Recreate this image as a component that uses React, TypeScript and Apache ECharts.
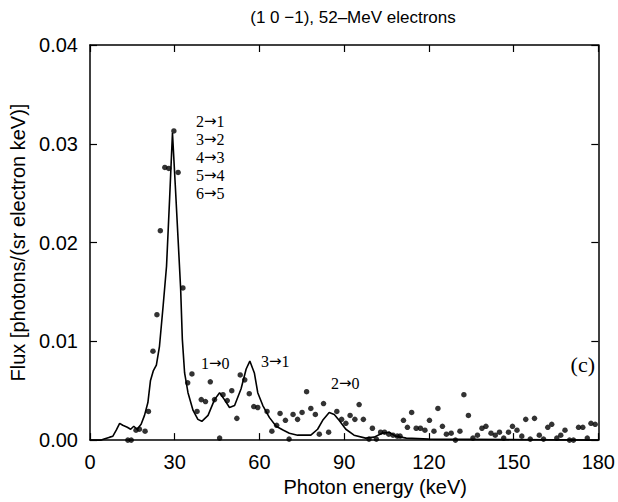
import React, { useEffect, useRef } from "react";
import * as echarts from "echarts";

// Tick labels
const xTicks = [0, 30, 60, 90, 120, 150, 180];
const yTicks = [0, 0.01, 0.02, 0.03, 0.04];

// Calculated spectrum (solid curve)
const curveEnergy = [0, 4, 5, 7, 8.1, 9.3, 10.5, 11.6, 13.2, 14.4, 15.5, 16.7, 18.1, 19.3, 20.5, 21.4, 22.4, 23.5, 24.6, 25.9, 27.1, 28.2, 29.2, 30.2, 31.2, 32.1, 32.7, 33.5, 34.7, 36.5, 38.2, 39.6, 41.8, 44.1, 45.9, 47.6, 49.4, 51.2, 53.5, 55.3, 56.6, 58.2, 59.4, 61.2, 63.5, 65.9, 68.5, 70.6, 73.5, 78.2, 80.6, 82.4, 84.7, 86.5, 88.2, 90.6, 93.5, 97.6, 100.6, 103.5, 105.9, 108.2, 112, 120, 180];
const curveFlux = [0, 0, 0.0001, 0.0003, 0.0004, 0.001, 0.0017, 0.0015, 0.0013, 0.0011, 0.0014, 0.0011, 0.0016, 0.0025, 0.0038, 0.006, 0.007, 0.0076, 0.0095, 0.0136, 0.0176, 0.0245, 0.0311, 0.0258, 0.0203, 0.0153, 0.0102, 0.0068, 0.0048, 0.003, 0.0021, 0.0019, 0.0025, 0.0041, 0.0048, 0.0041, 0.0033, 0.0035, 0.0052, 0.0072, 0.008, 0.0068, 0.0048, 0.0035, 0.0023, 0.0014, 0.001, 0.0007, 0.0005, 0.0005, 0.0011, 0.002, 0.0028, 0.0026, 0.002, 0.0011, 0.0005, 0.0002, 0.0003, 0.0007, 0.0008, 0.0004, 0.0002, 0.0001, 0];

// Measured data (dots)
const dotEnergy = [13.4, 14.6, 16.3, 17.5, 19.5, 20.7, 22.3, 23.7, 24.9, 26.5, 27.9, 29.7, 31.2, 32.9, 34.6, 36.1, 37.9, 39.4, 40.9, 42.6, 44.1, 45.9, 47.1, 48.6, 50.2, 52.0, 53.2, 54.8, 56.4, 58.0, 59.4, 62.7, 64.4, 66.1, 67.3, 69.2, 70.5, 71.9, 73.5, 75.1, 76.7, 78.2, 79.8, 81.2, 82.7, 84.5, 87.4, 89.1, 90.6, 92.1, 93.8, 95.3, 96.8, 98.8, 100.0, 101.4, 102.9, 104.3, 105.8, 107.3, 108.8, 109.8, 111.0, 112.4, 113.9, 115.5, 117.0, 118.6, 120.2, 121.8, 123.2, 124.8, 126.2, 127.9, 129.4, 131.0, 132.4, 134.0, 135.6, 137.2, 138.8, 140.2, 142.0, 143.5, 145.0, 146.5, 148.2, 149.6, 151.2, 152.9, 154.3, 155.9, 157.4, 159.1, 160.6, 162.1, 163.5, 165.3, 166.7, 168.2, 169.8, 171.2, 173.0, 174.5, 176.1, 177.4, 178.9];
const dotFlux = [0, 0, 0.001, 0.0011, 0.0009, 0.0029, 0.009, 0.0127, 0.0212, 0.0276, 0.0275, 0.0313, 0.0271, 0.0154, 0.0058, 0.0067, 0.0029, 0.0041, 0.0039, 0.0059, 0.0041, 0.0002, 0.0046, 0.004, 0.005, 0.0022, 0.0066, 0.0061, 0.0047, 0.0034, 0.0033, 0.0029, 0.0009, 0.0015, 0.0027, 0.002, 0.0001, 0.0026, 0.0021, 0.0028, 0.0049, 0.0032, 0.0026, 0.0006, 0.0037, 0.0008, 0.0029, 0.0021, 0.0017, 0.0025, 0.0021, 0.0036, 0.0021, 0.0001, 0.0012, 0.0001, 0.0008, 0.0008, 0.0006, 0.0005, 0.0004, 0.0004, 0.002, 0.0013, 0.0028, 0.0012, 0.0012, 0.001, 0.002, 0.0009, 0.0032, 0.0014, 0.0006, 0.0007, 0, 0.0009, 0.0046, 0.0025, 0.0002, 0.0005, 0.0012, 0.0014, 0.0007, 0.0005, 0.0008, 0.0002, 0.0008, 0.0014, 0.001, 0.0004, 0.0021, 0.0001, 0.0022, 0.0005, 0.0001, 0.0013, 0.0016, 0.0002, 0.0005, 0.001, 0, 0, 0.0013, 0.0013, 0.0002, 0.0017, 0.0016];

// Transition annotations [from, to]
const peakLabels = [["2", "1"], ["3", "2"], ["4", "3"], ["5", "4"], ["6", "5"]];
const sideLabels = [["1", "0"], ["3", "1"], ["2", "0"]];

const SANS = "'Liberation Sans', Arial, Helvetica, sans-serif";
const SERIF = "'Liberation Serif', 'Times New Roman', serif";

export default function App() {
  const ref = useRef<HTMLDivElement>(null);

  useEffect(() => {
    if (!ref.current) return;
    const chart = echarts.init(ref.current, undefined, { renderer: "svg" });

    const curve = curveEnergy.map((x, i) => [x, curveFlux[i]]);
    const dots = dotEnergy.map((x, i) => [x, dotFlux[i]]);

    const axisLine = { show: true, onZero: false, lineStyle: { color: "#000", width: 1.5 } };
    const axisTick = { show: true, inside: true, length: 7, lineStyle: { color: "#000", width: 1.2 } };

    const peakY = [121, 139, 157, 175, 193];
    const sidePos = [
      [201, 363],
      [261, 361],
      [331, 383],
    ];

    const rich = {
      d: { fontFamily: SERIF, fontSize: 16, fill: "#000", color: "#000" },
      a: { fontFamily: "'DejaVu Sans', sans-serif", fontSize: 15, fill: "#000", color: "#000" },
    };

    const transText = (p: string[], x: number, y: number) => ({
      type: "text",
      x,
      y,
      style: {
        text: `{d|${p[0]}}{a|→}{d|${p[1]}}`,
        rich,
        font: `16px ${SERIF}`,
        fill: "#000",
        align: "left",
        verticalAlign: "middle",
        textAlign: "left",
        textVerticalAlign: "middle",
      },
    });

    const graphics: any[] = [
      {
        type: "text",
        x: 353,
        y: 17,
        style: {
          text: "(1 0 −1), 52–MeV electrons",
          font: `17px ${SANS}`,
          fill: "#000",
          align: "center",
          verticalAlign: "middle",
          textAlign: "center",
          textVerticalAlign: "middle",
        },
      },
      ...peakLabels.map((p, i) => transText(p, 196, peakY[i])),
      ...sideLabels.map((p, i) => transText(p, sidePos[i][0], sidePos[i][1])),
      {
        type: "text",
        x: 595,
        y: 364,
        style: {
          text: "(c)",
          font: `22px ${SERIF}`,
          fill: "#000",
          align: "right",
          verticalAlign: "middle",
          textAlign: "right",
          textVerticalAlign: "middle",
        },
      },
    ];

    chart.setOption({
      animation: false,
      backgroundColor: "#fff",
      grid: { left: 90, right: 18, top: 45, bottom: 61, containLabel: false },
      xAxis: [
        {
          type: "value",
          position: "bottom",
          min: xTicks[0],
          max: xTicks[xTicks.length - 1],
          interval: 30,
          axisLine,
          axisTick,
          splitLine: { show: false },
          axisLabel: { margin: 12, fontSize: 20, color: "#000", fontFamily: SANS },
          name: "Photon energy (keV)",
          nameLocation: "middle",
          nameGap: 35,
          nameTextStyle: { fontSize: 20, color: "#000", fontFamily: SANS, padding: [0, 0, 0, 62] },
        },
        {
          type: "value",
          position: "top",
          min: xTicks[0],
          max: xTicks[xTicks.length - 1],
          interval: 30,
          axisLine,
          axisTick,
          splitLine: { show: false },
          axisLabel: { show: false },
        },
      ],
      yAxis: [
        {
          type: "value",
          position: "left",
          min: yTicks[0],
          max: yTicks[yTicks.length - 1],
          interval: 0.01,
          axisLine,
          axisTick,
          splitLine: { show: false },
          axisLabel: {
            margin: 12,
            fontSize: 20,
            color: "#000",
            fontFamily: SANS,
            formatter: (v: number) => v.toFixed(2),
          },
          name: "Flux [photons/(sr electron keV)]",
          nameLocation: "middle",
          nameGap: 60,
          nameTextStyle: { fontSize: 20, color: "#000", fontFamily: SANS },
        },
        {
          type: "value",
          position: "right",
          min: yTicks[0],
          max: yTicks[yTicks.length - 1],
          interval: 0.01,
          axisLine,
          axisTick,
          splitLine: { show: false },
          axisLabel: { show: false },
        },
      ],
      series: [
        {
          type: "line",
          data: curve,
          xAxisIndex: 0,
          yAxisIndex: 0,
          showSymbol: false,
          symbol: "none",
          lineStyle: { color: "#000", width: 1.6 },
          z: 2,
        },
        {
          type: "scatter",
          data: dots,
          xAxisIndex: 0,
          yAxisIndex: 0,
          symbol: "circle",
          symbolSize: 5.5,
          itemStyle: { color: "#000" },
          z: 3,
        },
      ],
      graphic: graphics,
    });

    return () => chart.dispose();
  }, []);

  return (
    <div
      ref={ref}
      style={{ position: "fixed", left: 0, top: 0, width: 618, height: 502, background: "#fff" }}
    />
  );
}
